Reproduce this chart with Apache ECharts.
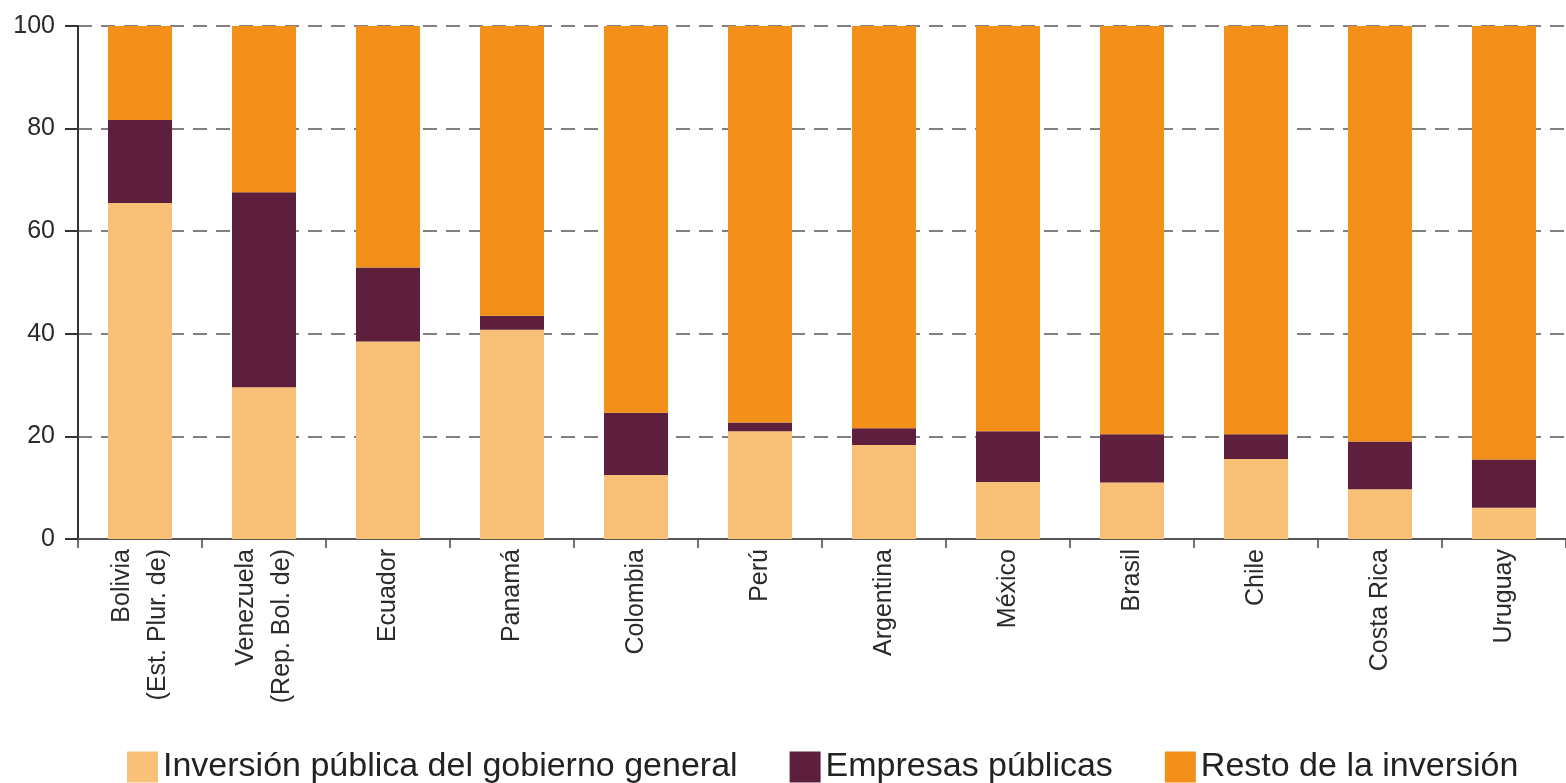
<!DOCTYPE html>
<html>
<head>
<meta charset="utf-8">
<script src="https://cdn.jsdelivr.net/npm/echarts@6/dist/echarts.min.js"></script>
<style>html,body{margin:0;padding:0;background:#fff}#c{width:1566px;height:783px}</style>
</head>
<body>
<div id="c"></div>
<script>
const categories = ['Bolivia\n(Est. Plur. de)', 'Venezuela\n(Rep. Bol. de)', 'Ecuador', 'Panamá', 'Colombia', 'Perú', 'Argentina', 'México', 'Brasil', 'Chile', 'Costa Rica', 'Uruguay'];
const gobiernoGeneral = [65.5, 29.6, 38.5, 40.8, 12.5, 21.0, 18.3, 11.1, 11.0, 15.6, 9.7, 6.1];
const empresasPublicas = [16.2, 38.0, 14.4, 2.7, 12.1, 1.7, 3.3, 9.9, 9.4, 4.8, 9.3, 9.4];
const restoInversion = [18.3, 32.4, 47.1, 56.5, 75.4, 77.3, 78.4, 79.0, 79.6, 79.6, 81.0, 84.5];
const yTicks = [0, 20, 40, 60, 80, 100];
const seriesNames = ['Inversión pública del gobierno general', 'Empresas públicas', 'Resto de la inversión'];

const chart = echarts.init(document.getElementById('c'), null, {renderer: 'canvas'});
const font = 'Liberation Sans, Arial, sans-serif';
const mk = (name, data, color) => ({
  name, type: 'bar', stack: 'total', data, barWidth: 64,
  itemStyle: {color}, emphasis: {disabled: true}
});
chart.setOption({
  animation: false,
  grid: {left: 78, right: -7, top: 26, bottom: 244, containLabel: false},
  legend: {
    top: 745, left: 122, itemWidth: 31, itemHeight: 31, itemGap: 52, icon: 'rect',
    textStyle: {fontFamily: font, fontSize: 34, color: '#222'},
    data: seriesNames
  },
  xAxis: {
    type: 'category', data: categories,
    axisLine: {lineStyle: {color: '#555', width: 2}},
    axisTick: {show: true, length: 9, lineStyle: {color: '#444', width: 1.5}},
    axisLabel: {rotate: 90, fontFamily: font, fontSize: 25, color: '#2b2b2b', margin: 10, lineHeight: 36}
  },
  yAxis: {
    type: 'value', min: 0, max: 100, interval: 20,
    axisLine: {show: true, lineStyle: {color: '#333', width: 2}},
    axisTick: {show: true, length: 13, lineStyle: {color: '#333', width: 2}},
    axisLabel: {fontFamily: font, fontSize: 25, color: '#2b2b2b', margin: 23,
      formatter: v => yTicks.includes(v) ? String(v) : ''},
    splitLine: {show: true, lineStyle: {color: '#808080', type: [14, 9], width: 2}}
  },
  series: [
    mk(seriesNames[0], gobiernoGeneral, '#F9C077'),
    mk(seriesNames[1], empresasPublicas, '#5E1F3D'),
    mk(seriesNames[2], restoInversion, '#F39019')
  ]
});
</script>
</body>
</html>
